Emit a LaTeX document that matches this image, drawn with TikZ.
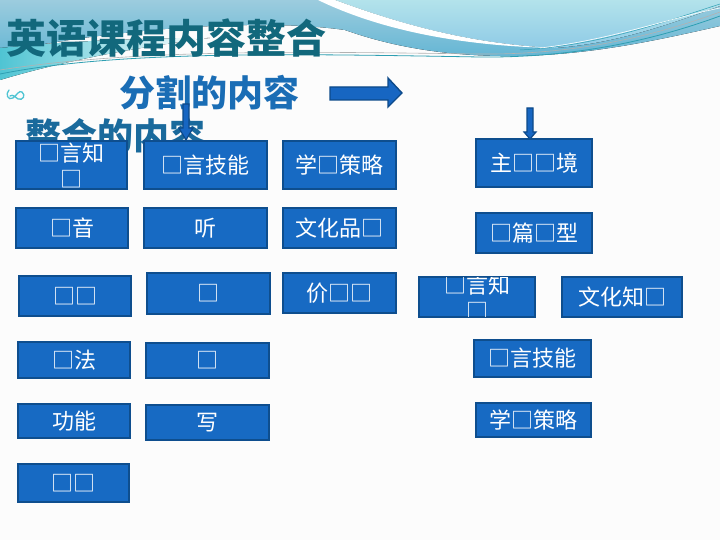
\documentclass[tikz,border=0pt]{standalone}
\usepackage{fontspec}
\newfontfamily\cjk{Noto Sans CJK SC}
\definecolor{boxfill}{HTML}{176AC3}
\definecolor{boxborder}{HTML}{0E4E8E}
\definecolor{titlecol}{HTML}{12687C}
\definecolor{subone}{HTML}{1A6DB5}
\definecolor{subtwo}{HTML}{1A6A9C}
\definecolor{arrowfill}{HTML}{1766C2}
\definecolor{arrowline}{HTML}{0D4A8A}
\definecolor{bgtop}{HTML}{9CCCDE}
\definecolor{bgbot}{HTML}{64B6D4}
\definecolor{cyanband}{HTML}{4FC4D3}
\definecolor{lightcyan}{HTML}{B3E3EB}
\definecolor{lightcyanb}{HTML}{8FCBE6}
\definecolor{swline}{HTML}{2E9FB2}
\tikzset{
  box/.style={draw=boxborder, line width=2.2pt, fill=boxfill, inner sep=0pt},
  boxtext/.style={text=white, font=\cjk\fontsize{22}{26}\selectfont, align=center, inner sep=0pt},
  bigarrow/.style={fill=arrowfill, draw=arrowline, line width=1.4pt, line join=miter},
}
\begin{document}
\begin{tikzpicture}[x=1pt,y=-1pt]
\useasboundingbox (0,0) rectangle (720,540);
\fill[white!98!gray] (0,0) rectangle (720,540);
% background swoosh
\fill[top color=bgtop, bottom color=bgbot] (0,0) -- (720,0) -- (720,26) .. controls (650,42) and (580,57) .. (500,56) .. controls (440,55) and (390,46) .. (345,30) .. controls (260,18) and (120,28) .. (0,52) -- cycle;
\fill[left color=cyanband, right color=white] (0,48) .. controls (60,42) and (130,38) .. (210,38) .. controls (130,48) and (60,62) .. (0,80) -- cycle;
\fill[top color=lightcyan, bottom color=lightcyanb] (335,0) -- (720,0) -- (720,6) .. controls (660,28) and (610,44) .. (555,48) .. controls (470,44) and (400,24) .. (335,0) -- cycle;
\fill[white] (318,0) -- (335,0) .. controls (400,24) and (470,44) .. (555,48) .. controls (460,46) and (380,30) .. (318,0) -- cycle;
\draw[swline, line width=0.8pt] (0,74) .. controls (120,50) and (300,54) .. (480,57) .. controls (580,58) and (660,38) .. (720,16);
\draw[gray!60, line width=0.6pt] (0,70) .. controls (140,48) and (320,52) .. (480,54) .. controls (580,55) and (660,34) .. (720,12);
\draw[swline, line width=0.5pt] (520,50) .. controls (600,46) and (670,20) .. (720,4);
\draw[white, line width=0.6pt] (540,48) .. controls (610,40) and (670,18) .. (720,8);
% bullet
\draw[cyanband, line width=1.3pt, line cap=round] (9,90) .. controls (5,94) and (8,101) .. (13,98) .. controls (17,95) and (19,90) .. (22,92) .. controls (26,95) and (23,101) .. (18,99) .. controls (15,97) and (13,94) .. (10,96);
% titles
\node[text=titlecol, font=\cjk\bfseries\fontsize{40}{44}\selectfont, inner sep=0pt] (title) at (166,38) {英语课程内容整合};
\node[text=subone, font=\cjk\bfseries\fontsize{36}{40}\selectfont, inner sep=0pt] (split) at (209,93) {分割的内容};
\node[text=subtwo, font=\cjk\bfseries\fontsize{36}{40}\selectfont, inner sep=0pt] (merge) at (115,136) {整合的内容};
% arrows
\draw[bigarrow] (330,87) -- (388,87) -- (388,78) -- (402,93) -- (388,107) -- (388,100) -- (330,100) -- cycle;
\draw[bigarrow, line width=1.2pt] (183,104) -- (189,104) -- (189,128) -- (193,128) -- (186,140) -- (179,128) -- (183,128) -- cycle;
\draw[bigarrow, line width=1.2pt] (527,108) -- (533,108) -- (533,132) -- (536,132) -- (530,139) -- (524,132) -- (527,132) -- cycle;
% row 1
\node[box, minimum width=111pt, minimum height=48pt] (A1) at (71.5,165) {};
\node[boxtext] (A1t) at (A1.center) {□言知\\□};
\node[box, minimum width=123pt, minimum height=48pt] (A2) at (205.5,165) {};
\node[boxtext] at (A2.center) {□言技能};
\node[box, minimum width=113pt, minimum height=48pt] (A3) at (339.5,165) {};
\node[boxtext] at (A3.center) {学□策略};
\node[box, minimum width=116pt, minimum height=48pt] (A4) at (534,163) {};
\node[boxtext] at (A4.center) {主□□境};
% row 2
\node[box, minimum width=112pt, minimum height=40pt] (B1) at (72,228) {};
\node[boxtext] at (B1.center) {□音};
\node[box, minimum width=123pt, minimum height=40pt] (B2) at (205.5,228) {};
\node[boxtext] at (B2.center) {听};
\node[box, minimum width=113pt, minimum height=40pt] (B3) at (339.5,228) {};
\node[boxtext] at (B3.center) {文化品□};
\node[box, minimum width=116pt, minimum height=40pt] (B4) at (534,233) {};
\node[boxtext] at (B4.center) {□篇□型};
% row 3
\node[box, minimum width=112pt, minimum height=40pt] (C1) at (75,296) {};
\node[boxtext] at (C1.center) {□□};
\node[box, minimum width=123pt, minimum height=41pt] (C2) at (208.5,293.5) {};
\node[boxtext] at (C2.center) {□};
\node[box, minimum width=113pt, minimum height=40pt] (C3) at (339.5,293) {};
\node[boxtext] at (C3.center) {价□□};
\node[box, minimum width=116pt, minimum height=40pt] (C4) at (477,297) {};
\begin{scope}
\clip (419.5,277.5) rectangle (534.5,316.5);
\node[boxtext] at (C4.center) {□言知\\□};
\end{scope}
\node[box, minimum width=120pt, minimum height=40pt] (C5) at (622,297) {};
\node[boxtext] at (C5.center) {文化知□};
% row 4
\node[box, minimum width=112pt, minimum height=36pt] (D1) at (74,360) {};
\node[boxtext] at (D1.center) {□法};
\node[box, minimum width=123pt, minimum height=35pt] (D2) at (207.5,360.5) {};
\node[boxtext] at (D2.center) {□};
\node[box, minimum width=117pt, minimum height=37pt] (D4) at (532.5,358.5) {};
\node[boxtext] at (D4.center) {□言技能};
% row 5
\node[box, minimum width=112pt, minimum height=34pt] (E1) at (74,421) {};
\node[boxtext] at (E1.center) {功能};
\node[box, minimum width=123pt, minimum height=35pt] (E2) at (207.5,422.5) {};
\node[boxtext] at (E2.center) {写};
\node[box, minimum width=115pt, minimum height=34pt] (E4) at (533.5,420) {};
\node[boxtext] at (E4.center) {学□策略};
% row 6
\node[box, minimum width=111pt, minimum height=38pt] (F1) at (73.5,483) {};
\node[boxtext] at (F1.center) {□□};
\end{tikzpicture}
\end{document}
